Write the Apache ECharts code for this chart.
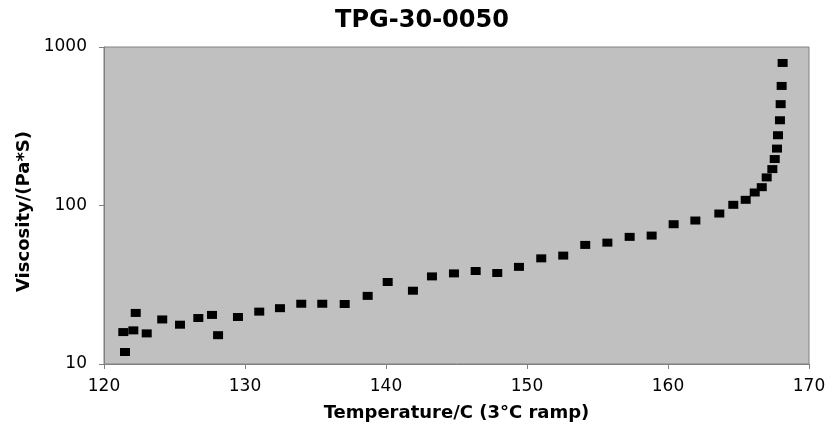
<!DOCTYPE html>
<html><head><meta charset="utf-8">
<script src="https://cdn.jsdelivr.net/npm/echarts@6/dist/echarts.min.js"></script>
<style>html,body{margin:0;padding:0;background:#fff}#c{width:832px;height:429px}</style>
</head><body><div id="c"></div>
<script>
const title = 'TPG-30-0050';
const xName = 'Temperature/C (3°C ramp)';
const yName = 'Viscosity/(Pa*S)';
const temperature = [121.37,121.49,122.08,122.25,123.03,124.13,125.39,126.69,127.66,128.09,129.50,131.01,132.48,
  133.99,135.48,137.07,138.70,140.12,141.91,143.26,144.82,146.36,147.89,149.43,
  151.01,152.57,154.13,155.70,157.28,158.84,160.40,161.94,
  163.64,164.63,165.51,166.15,166.65,167.00,167.40,167.57,167.73,167.80,167.94,167.99,168.06,168.13];
const viscosity = [15.9,11.9,16.3,21.0,15.6,19.1,17.7,19.5,20.4,15.2,19.8,21.4,22.5,
  24.0,24.0,23.9,26.9,32.9,29.0,35.7,37.3,38.6,37.5,41.0,
  46.4,48.3,56.4,58.3,63.4,64.6,76.2,80.4,
  89.0,101,108.6,120.8,130.5,150.4,169.7,196.4,228.6,277.5,345,436,568,793];
const font = 'DejaVu Sans, sans-serif';
const chart = echarts.init(document.getElementById('c'));
chart.setOption({
  animation:false,
  backgroundColor:'#fff',
  title:{text:title,left:417,textAlign:'center',top:4,textStyle:{fontFamily:font,fontSize:24,fontWeight:'bold',color:'#000'}},
  grid:{left:104,right:23,top:47,bottom:65,show:true,backgroundColor:'#c0c0c0',borderColor:'#808080',borderWidth:1},
  xAxis:{type:'value',min:120,max:170,interval:10,name:xName,nameLocation:'middle',nameGap:40,
    nameTextStyle:{fontFamily:font,fontSize:18,fontWeight:'bold',color:'#000'},
    axisLine:{show:true,lineStyle:{color:'#808080',width:1}},
    axisTick:{show:true,length:5,lineStyle:{color:'#808080'}},
    axisLabel:{fontFamily:font,fontSize:17,color:'#000',margin:14},
    splitLine:{show:false}},
  yAxis:{type:'log',logBase:10,min:10,max:1000,name:yName,nameLocation:'middle',nameGap:70,
    nameTextStyle:{fontFamily:font,fontSize:18,fontWeight:'bold',color:'#000',padding:[0,12,0,0]},
    axisLine:{show:true,lineStyle:{color:'#808080',width:1}},
    axisTick:{show:true,length:5,lineStyle:{color:'#808080'}},
    minorTick:{show:false},
    axisLabel:{fontFamily:font,fontSize:17,color:'#000',margin:17,formatter:v=>String(Math.round(v))},
    splitLine:{show:false}},
  series:[{type:'scatter',symbol:'rect',symbolSize:[10,8],itemStyle:{color:'#000',opacity:1},
    data:temperature.map((t,i)=>[t,viscosity[i]])}]
});
</script></body></html>
